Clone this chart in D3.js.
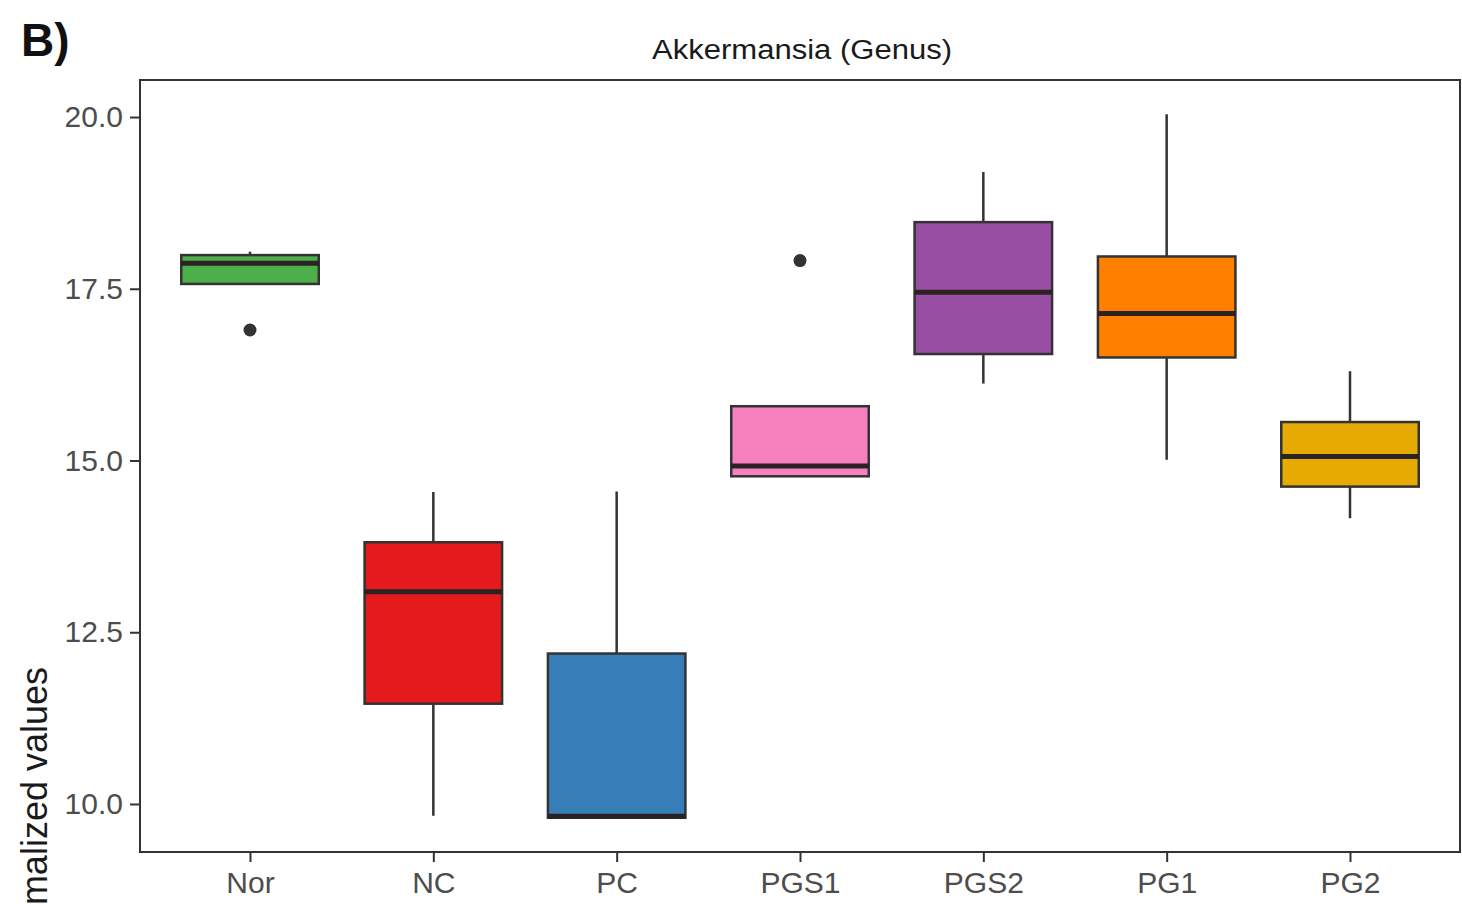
<!DOCTYPE html>
<html lang="en">
<head>
  <meta charset="UTF-8">
  <title>Akkermansia (Genus)</title>
  <script src="https://cdn.jsdelivr.net/npm/d3@7"></script>
  <style>
    body { margin: 0; overflow: hidden; background: #fff; font-family: 'Liberation Sans', Arial, sans-serif; }
  </style>
</head>
<body>
  <script>
    // box statistics
    const groups = ["Nor", "NC", "PC", "PGS1", "PGS2", "PG1", "PG2"];
    const whiskerLow = [17.57, 9.83, 9.80, 14.77, 16.12, 15.01, 14.16];
    const q1 = [17.57, 11.46, 9.80, 14.77, 16.55, 16.50, 14.62];
    const median = [17.87, 13.09, 9.82, 14.92, 17.45, 17.14, 15.06];
    const q3 = [17.99, 13.81, 12.19, 15.79, 18.47, 17.97, 15.56];
    const whiskerHigh = [18.04, 14.54, 14.55, 15.79, 19.20, 20.04, 16.30];
    const outlierGroup = ["Nor", "PGS1"];
    const outlierValue = [16.90, 17.91];
    const colors = ["#4DAF4A", "#E41A1C", "#377EB8", "#F781BF", "#984EA3", "#FF7F00", "#E6AB02"];
    const yTicks = [10.0, 12.5, 15.0, 17.5, 20.0];

    const width = 1462, height = 904;
    const panel = {left: 140, right: 1460, top: 80, bottom: 852};

    const boxes = groups.map((g, i) => ({
      g, lo: whiskerLow[i], q1: q1[i], med: median[i], q3: q3[i], hi: whiskerHigh[i], color: colors[i]
    }));

    const x = d3.scalePoint().domain(groups).range([panel.left, panel.right]).padding(0.6);
    const y = d3.scaleLinear().domain([9.301, 20.539]).range([panel.bottom, panel.top]);
    const boxW = x.step() * 0.75;

    const svg = d3.create("svg")
        .attr("width", width)
        .attr("height", height)
        .attr("viewBox", [0, 0, width, height]);

    // whiskers
    svg.append("g")
        .attr("stroke", "#333")
        .attr("stroke-width", 2.5)
      .selectAll("line")
      .data(boxes)
      .join("line")
        .attr("x1", d => x(d.g))
        .attr("x2", d => x(d.g))
        .attr("y1", d => y(d.lo))
        .attr("y2", d => y(d.hi));

    // boxes
    svg.append("g")
        .attr("stroke", "#333")
        .attr("stroke-width", 2.5)
      .selectAll("rect")
      .data(boxes)
      .join("rect")
        .attr("x", d => x(d.g) - boxW / 2)
        .attr("y", d => y(d.q3))
        .attr("width", boxW)
        .attr("height", d => y(d.q1) - y(d.q3))
        .attr("fill", d => d.color);

    // medians
    svg.append("g")
        .attr("stroke", "#2b2222")
        .attr("stroke-width", 5)
      .selectAll("line")
      .data(boxes)
      .join("line")
        .attr("x1", d => x(d.g) - boxW / 2)
        .attr("x2", d => x(d.g) + boxW / 2)
        .attr("y1", d => y(d.med))
        .attr("y2", d => y(d.med));

    // outliers
    svg.append("g")
        .attr("fill", "#333")
      .selectAll("circle")
      .data(d3.zip(outlierGroup, outlierValue))
      .join("circle")
        .attr("cx", d => x(d[0]))
        .attr("cy", d => y(d[1]))
        .attr("r", 6.5);

    // panel border
    svg.append("rect")
        .attr("x", panel.left)
        .attr("y", panel.top)
        .attr("width", panel.right - panel.left)
        .attr("height", panel.bottom - panel.top)
        .attr("fill", "none")
        .attr("stroke", "#333")
        .attr("stroke-width", 2);

    // axes
    const yAxis = svg.append("g")
        .attr("transform", `translate(${panel.left},0)`)
        .call(d3.axisLeft(y).tickValues(yTicks).tickFormat(d3.format(".1f")).tickSize(10).tickPadding(7));
    const xAxis = svg.append("g")
        .attr("transform", `translate(0,${panel.bottom})`)
        .call(d3.axisBottom(x).tickSize(10).tickPadding(10));

    [yAxis, xAxis].forEach(a => {
      a.select(".domain").remove();
      a.selectAll(".tick line").attr("stroke", "#333").attr("stroke-width", 2);
      a.selectAll(".tick text")
          .attr("fill", "#4D4D4D")
          .attr("font-size", 30)
          .attr("font-family", "'Liberation Sans', Arial, sans-serif");
    });

    // title, y label (cut at the bottom edge as in the source figure), panel tag
    svg.append("text")
        .attr("x", 802)
        .attr("y", 59)
        .attr("text-anchor", "middle")
        .attr("font-size", 27)
        .attr("fill", "#1a1a1a")
        .attr("textLength", 300)
        .attr("lengthAdjust", "spacingAndGlyphs")
        .text("Akkermansia (Genus)");

    svg.append("text")
        .attr("transform", "translate(47,667) rotate(-90)")
        .attr("text-anchor", "end")
        .attr("font-size", 36)
        .attr("fill", "#1a1a1a")
        .text("Normalized values");

    svg.append("text")
        .attr("x", 21)
        .attr("y", 56)
        .attr("font-size", 46)
        .attr("font-weight", "bold")
        .attr("fill", "#111")
        .text("B)");

    document.body.appendChild(svg.node());
  </script>
</body>
</html>
